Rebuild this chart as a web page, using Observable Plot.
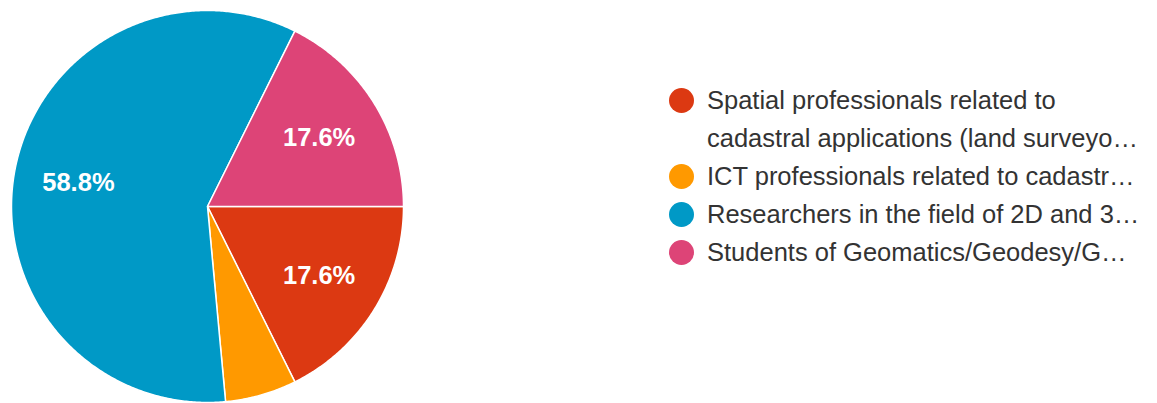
<!DOCTYPE html>
<html>
<head>
<meta charset="utf-8">
<script src="https://cdn.jsdelivr.net/npm/d3@7"></script>
<script src="https://cdn.jsdelivr.net/npm/@observablehq/plot@0.6"></script>
<style>
  html, body { margin: 0; padding: 0; background: #fff; }
  #wrap { position: relative; width: 1157px; height: 403px; overflow: hidden; }
  #legend { position: absolute; left: 669px; top: 81px; font-family: "Liberation Sans", Arial, sans-serif; font-size: 25.5px; color: #333; white-space: nowrap; }
  .item { display: flex; align-items: flex-start; line-height: 38px; }
  .sw { width: 25px; height: 25px; border-radius: 50%; flex: none; margin-top: 6.5px; margin-right: 13px; }
</style>
</head>
<body>
<div id="wrap">
  <div id="chart"></div>
  <div id="legend"></div>
</div>
<script>
const categories = [
  "Spatial professionals related to cadastral applications (land surveyo\u2026",
  "ICT professionals related to cadastr\u2026",
  "Researchers in the field of 2D and 3\u2026",
  "Students of Geomatics/Geodesy/G\u2026"
];
const legendLines = [
  ["Spatial professionals related to", "cadastral applications (land surveyo\u2026"],
  ["ICT professionals related to cadastr\u2026"],
  ["Researchers in the field of 2D and 3\u2026"],
  ["Students of Geomatics/Geodesy/G\u2026"]
];
const counts = [3, 1, 10, 3];
const colors = ["#dc3912", "#ff9900", "#0099c6", "#dd4477"];

const total = d3.sum(counts);
const pie = d3.pie().sort(null).value(d => d.value)
  .startAngle(Math.PI / 2).endAngle(Math.PI / 2 + 2 * Math.PI);
const data = categories.map((c, i) => ({category: c, value: counts[i]}));
const arcs = pie(data);

// polygon vertices for each slice (unit circle coordinates)
const verts = [];
arcs.forEach(a => {
  const cat = a.data.category;
  verts.push({category: cat, x: 0, y: 0});
  const n = Math.max(2, Math.ceil((a.endAngle - a.startAngle) / (Math.PI / 360)));
  for (let k = 0; k <= n; k++) {
    const t = a.startAngle + (a.endAngle - a.startAngle) * k / n;
    verts.push({category: cat, x: Math.sin(t), y: Math.cos(t)});
  }
  verts.push({category: cat, x: 0, y: 0});
});

const labels = arcs
  .filter(a => a.data.value / total > 0.1)
  .map(a => {
    const m = (a.startAngle + a.endAngle) / 2;
    return {x: 0.67 * Math.sin(m), y: 0.67 * Math.cos(m),
            text: (a.data.value / total * 100).toFixed(1) + "%"};
  });

const chart = Plot.plot({
  width: 1157,
  height: 403,
  margin: 0,
  x: {domain: [-1, 1], range: [11, 403], axis: null},
  y: {domain: [-1, 1], range: [402, 10], axis: null},
  color: {domain: categories, range: colors},
  style: {background: "#fff"},
  marks: [
    Plot.line(verts, {x: "x", y: "y", z: "category", fill: "category",
      stroke: "#fff", strokeWidth: 1.5, strokeLinejoin: "round", curve: "linear"}),
    Plot.text(labels, {x: "x", y: "y", text: "text", fill: "#fff",
      fontSize: 25.5, fontWeight: "bold", fontFamily: "Liberation Sans, Arial, sans-serif"})
  ]
});
document.getElementById("chart").appendChild(chart);

const leg = document.getElementById("legend");
categories.forEach((c, i) => {
  const item = document.createElement("div");
  item.className = "item";
  const sw = document.createElement("div");
  sw.className = "sw";
  sw.style.background = colors[i];
  const tx = document.createElement("div");
  tx.innerHTML = legendLines[i].join("<br>");
  item.appendChild(sw);
  item.appendChild(tx);
  leg.appendChild(item);
});
</script>
</body>
</html>
